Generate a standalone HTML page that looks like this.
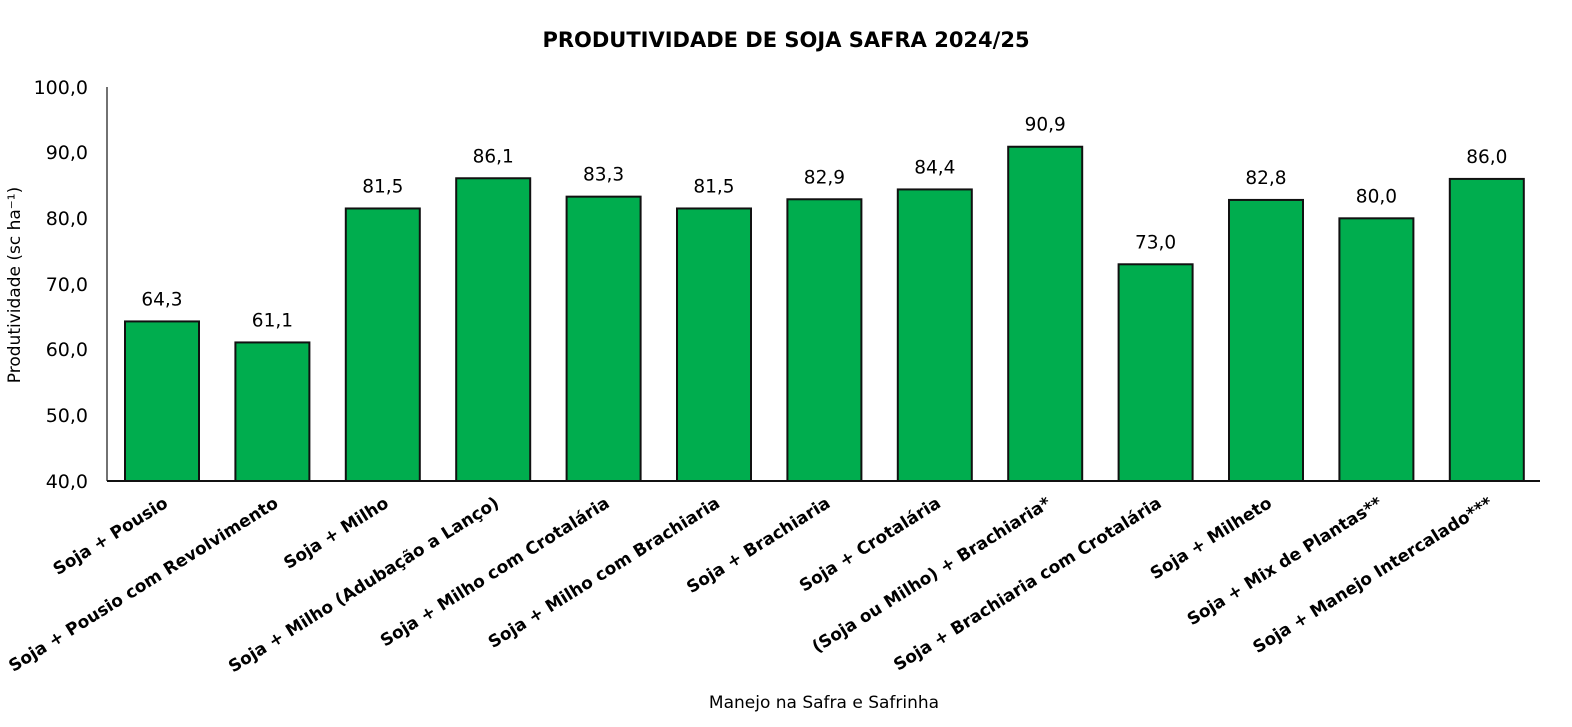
<!DOCTYPE html>
<html><head><meta charset="utf-8"><style>body{margin:0;background:#fff}svg{display:block}text{font-family:"DejaVu Sans","Liberation Sans",sans-serif;fill:#000}</style></head><body>
<svg width="1572" height="727" xmlns="http://www.w3.org/2000/svg">
<text x="786" y="47" text-anchor="middle" font-size="21" font-weight="bold">PRODUTIVIDADE DE SOJA SAFRA 2024/25</text>
<g font-size="19" text-anchor="end">
<text x="88" y="94">100,0</text><text x="88" y="159">90,0</text><text x="88" y="225">80,0</text><text x="88" y="291">70,0</text><text x="88" y="356">60,0</text><text x="88" y="422">50,0</text><text x="88" y="488">40,0</text>
</g>
<text transform="translate(20,285) rotate(-90)" text-anchor="middle" font-size="17">Produtividade (sc ha⁻¹)</text>
<line x1="107" y1="87" x2="107" y2="481" stroke="#444" stroke-width="1.5"/>
<g id="bars" fill="#00ad4e" stroke="#111" stroke-width="2"></g>
<line x1="107" y1="481" x2="1540" y2="481" stroke="#111" stroke-width="2"/>
<g id="vals" font-size="18.5" text-anchor="middle"></g>
<g id="labs" font-size="17" font-weight="bold" text-anchor="end"></g>
<text x="824" y="708" text-anchor="middle" font-size="17">Manejo na Safra e Safrinha</text>
</svg>
<script>
var v=[64.3,61.1,81.5,86.1,83.3,81.5,82.9,84.4,90.9,73.0,82.8,80.0,86.0];
var l=["Soja + Pousio","Soja + Pousio com Revolvimento","Soja + Milho","Soja + Milho (Adubação a Lanço)","Soja + Milho com Crotalária","Soja + Milho com Brachiaria","Soja + Brachiaria","Soja + Crotalária","(Soja ou Milho) + Brachiaria*","Soja + Brachiaria com Crotalária","Soja + Milheto","Soja + Mix de Plantas**","Soja + Manejo Intercalado***"];
var ns="http://www.w3.org/2000/svg",b=document.getElementById("bars"),va=document.getElementById("vals"),la=document.getElementById("labs");
v.forEach(function(d,i){var x=125+i*110.4,y=481-(d-40)*6.567;
var r=document.createElementNS(ns,"rect");r.setAttribute("x",x);r.setAttribute("y",y);r.setAttribute("width",74);r.setAttribute("height",481-y);b.appendChild(r);
var t=document.createElementNS(ns,"text");t.setAttribute("x",x+37);t.setAttribute("y",y-16);t.textContent=d.toFixed(1).replace(".",",");va.appendChild(t);
var s=document.createElementNS(ns,"text");var cx=x+44,cy=506;s.setAttribute("transform","translate("+cx+","+cy+") rotate(-32)");s.textContent=l[i];la.appendChild(s);});
</script>
</body></html>
